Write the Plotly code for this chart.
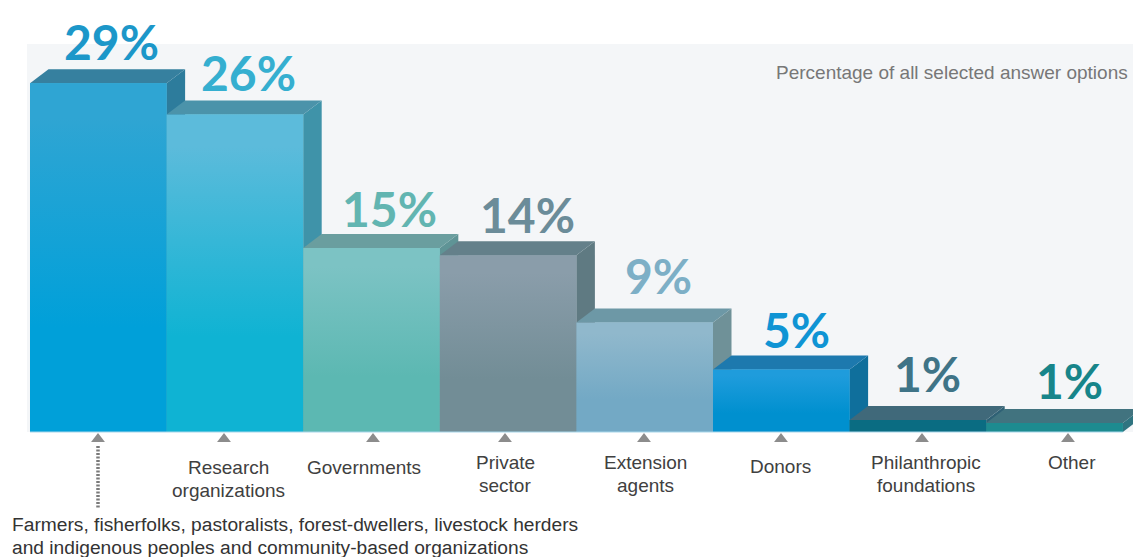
import plotly.graph_objects as go

# ---- data ----
categories = ["Farmers, fisherfolks, pastoralists, forest-dwellers, livestock herders<br>and indigenous peoples and community-based organizations",
              "Research<br>organizations", "Governments", "Private<br>sector",
              "Extension<br>agents", "Donors", "Philanthropic<br>foundations", "Other"]
value_labels = ["29%", "26%", "15%", "14%", "9%", "5%", "1%", "1%"]
# drawn bar heights, as measured in the picture (percent)
drawn_values = [29.0, 26.4, 15.3, 14.7, 9.1, 5.2, 1.0, 0.75]
note = "Percentage of all selected answer options"

# ---- styles ----
front_top = ["#2fa5d3", "#5cbbdb", "#7cc3c4", "#8a9daa", "#90b8cc", "#1f9cdc", "#0a6c82", "#1d8b90"]
front_bottom = ["#00a0d9", "#0fb3d3", "#5cb8b2", "#728d96", "#73a9c5", "#0090cf", "#0a6c82", "#1d8b90"]
top_face = ["#36809f", "#4b93aa", "#6a9e9f", "#64808a", "#6d98a6", "#1d79ae", "#40697a", "#41737f"]
side_face = ["#2d7c9c", "#3f93a9", "#5f9496", "#5f7a82", "#6f9198", "#0f6f9c", "#2f6175", "#2f7480"]
label_colors = ["#1c97c9", "#35afd0", "#62b5b1", "#6b8c99", "#7dafc6", "#0f94d4", "#3f7487", "#17858a"]

W, H = 1133, 557
X0, BAR_W = 30.0, 136.6   # pixel of first bar's left edge, bar width
Y0, Y_SCALE = 432.0, 12.03  # baseline pixel, pixels per percent
DX, DY = 18.5 / BAR_W, 14.0 / Y_SCALE  # 3D depth in axis units
LINE_GAP = 23


def xv(px):
    return (px - X0) / BAR_W - 0.5


def yv(py):
    return (Y0 - py) / Y_SCALE


tick_px = [98, 224, 373, 505, 644, 781, 922, 1068]
label_px = [None, 228, 364, 505, 645, 780, 926, 1072]
label_py = [None, 467, 467, 462, 462, 466, 462, 462]  # first-line centres
value_px = [111, 248, 389, 527, 658, 796, 927, 1069]
value_py = [41, 72, 208, 214, 275, 329, 373, 380]

fig = go.Figure()
xs = list(range(len(drawn_values)))

fig.add_trace(go.Bar(x=xs, y=drawn_values, width=1, marker=dict(color=front_bottom, line=dict(width=0)),
                     hoverinfo="skip", showlegend=False))

for i, v in zip(xs, drawn_values):
    l, r = i - 0.5, i + 0.5
    fig.add_trace(go.Scatter(x=[r, r + DX, r + DX, r, r], y=[v, v + DY, DY, 0, v], mode="lines",
                             fill="toself", fillcolor=side_face[i], line=dict(width=0),
                             hoverinfo="skip", showlegend=False))
    fig.add_trace(go.Scatter(x=[l, l + DX, r + DX, r, l], y=[v, v + DY, v + DY, v, v], mode="lines",
                             fill="toself", fillcolor=top_face[i], line=dict(width=0),
                             hoverinfo="skip", showlegend=False))
    fig.add_trace(go.Scatter(x=[l, r, r, l, l], y=[0, 0, v, v, 0], mode="lines",
                             fill="toself", line=dict(width=0),
                             fillgradient=dict(type="vertical",
                                               colorscale=[[0, front_bottom[i]], [0.3, front_bottom[i]], [0.9, front_top[i]], [1, front_top[i]]]),
                             hoverinfo="skip", showlegend=False))

fig.add_trace(go.Scatter(x=[xv(p) for p in tick_px], y=[yv(439)] * len(tick_px), mode="markers",
                         marker=dict(symbol="triangle-up", size=12, color="#8c8c8c"),
                         hoverinfo="skip", showlegend=False))
fig.add_trace(go.Scatter(x=[xv(tick_px[0])] * 2, y=[yv(446), yv(508)], mode="lines",
                         line=dict(color="#7a7a7a", width=3.5, dash="2px,1.5px"),
                         hoverinfo="skip", showlegend=False))
fig.add_trace(go.Scatter(x=[xs[0] - 0.5, xs[-1] + 0.5], y=[0, 0], mode="lines",
                         line=dict(color="#a8d6ea", width=1), hoverinfo="skip", showlegend=False))

annotations = []
for i, lab in enumerate(value_labels):
    annotations.append(dict(x=xv(value_px[i]), y=yv(value_py[i]), text=lab, showarrow=False,
                            xanchor="center", yanchor="middle",
                            font=dict(family="Lato", size=48, weight=700, color=label_colors[i])))
for i in range(1, len(categories)):
    for k, line in enumerate(categories[i].split("<br>")):
        annotations.append(dict(x=xv(label_px[i]), y=yv(label_py[i] + k * LINE_GAP), text=line, showarrow=False,
                                xanchor="center", yanchor="middle", align="center",
                                font=dict(family="Liberation Sans", size=19, color="#404040")))
for k, line in enumerate(categories[0].split("<br>")):
    annotations.append(dict(x=xv(10), y=yv(524 + k * LINE_GAP), text=line, showarrow=False, xanchor="left",
                            yanchor="middle", align="left",
                            font=dict(family="Liberation Sans", size=19.2, color="#333333")))
annotations.append(dict(x=xv(1130), y=yv(72), text=note, showarrow=False, xanchor="right", yanchor="middle",
                        font=dict(family="Liberation Sans", size=19, color="#777777")))

fig.update_layout(
    width=W, height=H, margin=dict(l=0, r=0, t=0, b=0),
    paper_bgcolor="white", plot_bgcolor="white", showlegend=False,
    xaxis=dict(range=[xv(0), xv(W)], visible=False, fixedrange=True),
    yaxis=dict(range=[yv(H), yv(0)], visible=False, fixedrange=True),
    annotations=annotations,
    shapes=[dict(type="rect", xref="x", yref="y", x0=xv(27), x1=xv(W), y0=0, y1=yv(44),
                 fillcolor="#f4f6f8", line=dict(width=0), layer="below")],
)

fig.write_html("out.html", config={"displayModeBar": False},
               post_script="document.body.style.margin='0';document.body.style.overflow='hidden';")
